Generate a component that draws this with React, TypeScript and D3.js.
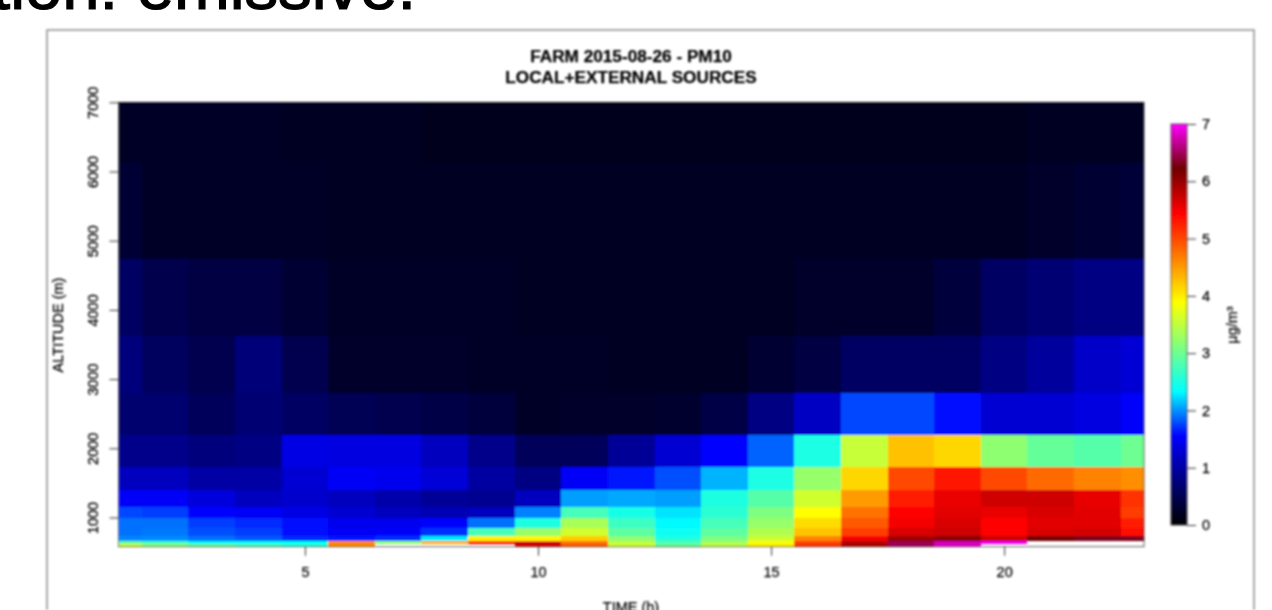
import { useEffect, useRef } from 'react';
import * as d3 from 'd3';

// Hours on the x axis, one column per hour
const hours = d3.range(1, 24);

// Altitude edges of the model layers, top to bottom (m)
const layerEdges = [7000, 6118, 4736, 3623, 2800, 2193, 1730, 1398, 1152, 993, 849, 737, 665, 617, 578];

// PM10 per layer (rows top to bottom) and hour (columns 1..23), 7.5 means off the scale (left white)
const row0 = [.23, .23, .23, .23, .21, .2, .2, .19, .19, .19, .19, .19, .19, .19, .19, .19, .19, .19, .19, .19, .2, .21, .21];
const row1 = [.33, .23, .23, .23, .23, .21, .21, .2, .2, .2, .2, .2, .2, .2, .2, .2, .2, .2, .22, .22, .26, .3, .35];
const row2 = [.6, .47, .4, .4, .3, .23, .23, .23, .23, .21, .21, .21, .21, .21, .21, .26, .26, .26, .37, .6, .7, .8, .8];
const row3 = [.76, .58, .49, .73, .49, .26, .26, .26, .24, .23, .23, .21, .21, .21, .3, .4, .6, .6, .6, .8, .95, 1.22, 1.3];
const row4 = [.67, .67, .55, .7, .6, .52, .49, .43, .37, .24, .27, .27, .28, .43, .8, 1.19, 1.77, 1.77, 1.6, 1.28, 1.28, 1.37, 1.53];
const row5 = [.85, .85, .76, .8, 1.4, 1.37, 1.37, 1.16, .85, .55, .55, .92, 1.28, 1.56, 1.86, 2.5, 3.55, 4.27, 4.13, 3.2, 2.95, 2.85, 3.0];
const row6 = [1.16, 1.16, 1.0, 1.0, 1.28, 1.5, 1.46, 1.31, .98, .8, 1.5, 1.62, 1.8, 2.1, 2.5, 3.25, 4.13, 5.0, 5.29, 5.0, 4.8, 4.65, 4.58];
const row7 = [1.52, 1.52, 1.34, 1.16, 1.25, 1.16, 1.04, .92, .88, 1.16, 2.04, 2.07, 2.04, 2.52, 2.85, 3.6, 4.5, 5.27, 5.55, 5.7, 5.7, 5.57, 5.13];
const row8 = [1.77, 1.74, 1.56, 1.5, 1.4, 1.28, 1.16, 1.1, 1.16, 1.95, 2.75, 2.48, 2.25, 2.6, 3.1, 3.89, 4.75, 5.44, 5.6, 5.55, 5.65, 5.6, 5.07];
const row9 = [1.9, 1.9, 1.74, 1.68, 1.6, 1.46, 1.46, 1.55, 1.9, 2.52, 3.35, 2.7, 2.32, 2.75, 3.25, 4.1, 4.9, 5.5, 5.65, 5.44, 5.6, 5.6, 5.27];
const row10 = [1.9, 1.92, 1.8, 1.74, 1.6, 1.5, 1.52, 1.7, 2.75, 3.25, 3.6, 2.9, 2.4, 2.9, 3.4, 4.25, 5.07, 5.65, 5.7, 5.44, 5.65, 5.68, 5.4];
const row11 = [1.96, 1.98, 1.9, 1.83, 1.68, 1.62, 1.7, 2.27, 3.98, 3.95, 4.2, 3.2, 2.55, 3.1, 3.6, 4.65, 5.5, 5.97, 6.08, 5.72, 6.2, 6.3, 6.3];
const row12 = [2.9, 2.7, 2.3, 2.32, 2.35, 4.6, 3.2, 4.4, 5.44, 5.62, 4.75, 3.5, 2.8, 3.35, 3.85, 5.07, 5.85, 6.45, 6.75, 6.92, 7.5, 7.5, 7.5];
const row13 = [3.6, 3.2, 3.0, 2.8, 2.6, 4.6, 7.5, 7.5, 7.5, 5.7, 4.9, 3.6, 3.0, 3.5, 4.0, 5.1, 5.9, 6.5, 6.85, 7.5, 7.5, 7.5, 7.5];
const rows = [row0, row1, row2, row3, row4, row5, row6, row7, row8, row9, row10, row11, row12, row13];

// Colour ramp of the key
const rampStops = [0, 1.556, 2.333, 3.889, 5.444, 6.222, 7];
const rampColors = ['#000000', '#0000ff', '#00ffff', '#ffff00', '#ff0000', '#6e0000', '#ff00ff'];

const xTicks = [5, 10, 15, 20];
const yTicks = [1000, 2000, 3000, 4000, 5000, 6000, 7000];
const keyTicks = [0, 1, 2, 3, 4, 5, 6, 7];

const AXIS_GREY = '#333';
const TEXT_SIZE = 14.5;
const FONT = '"Liberation Sans", Arial, sans-serif';

const App = () => {
    const ref = useRef<SVGSVGElement>(null);

    useEffect(() => {
        const svg = d3.select(ref.current);
        svg.selectAll('*').remove();

        const x = d3.scaleLinear().domain([1, 23]).range([118.5, 1144]);
        const y = d3.scaleLinear().domain([7000, 578]).range([102.3, 546.7]);
        const keyY = d3.scaleLinear().domain([0, 7]).range([525, 124]);
        const color = d3.scaleLinear<string>().domain(rampStops).range(rampColors).interpolate(d3.interpolateRgb);

        const defs = svg.append('defs');

        // The source is a soft upscaled screenshot, so the figure gets a slight blur
        defs.append('filter')
            .attr('id', 'soft')
            .attr('filterUnits', 'userSpaceOnUse')
            .attr('x', 0).attr('y', 0).attr('width', 1272).attr('height', 610)
            .append('feGaussianBlur').attr('stdDeviation', 0.8);

        defs.append('linearGradient')
            .attr('id', 'ramp')
            .attr('x1', 0).attr('y1', 1).attr('x2', 0).attr('y2', 0)
            .selectAll('stop')
            .data(rampStops)
            .join('stop')
            .attr('offset', (d) => d / 7)
            .attr('stop-color', (d) => color(d));

        // Caption cut off by the top of the picture
        svg.append('text')
            .attr('x', 416).attr('y', 8.5)
            .attr('text-anchor', 'end')
            .attr('font-family', FONT).attr('font-size', 67)
            .attr('fill', '#000').attr('stroke', '#000').attr('stroke-width', 1.2)
            .text('tion: emissive.');

        const g = svg.append('g').attr('filter', 'url(#soft)');

        // Frame of the pasted figure
        g.append('path')
            .attr('d', 'M47,610V30H1254V610')
            .attr('fill', 'none').attr('stroke', '#8c8c8c').attr('stroke-width', 1.5);

        // Heatmap cells, the first and last columns are half wide
        rows.forEach((values, r) => {
            hours.forEach((hour, c) => {
                const v = values[c];
                if (v > 7) return;
                const x0 = x(Math.max(1, hour - 0.5));
                const x1 = x(Math.min(23, hour + 0.5));
                g.append('rect')
                    .attr('x', x0)
                    .attr('y', y(layerEdges[r]))
                    .attr('width', x1 - x0)
                    .attr('height', y(layerEdges[r + 1]) - y(layerEdges[r]))
                    .attr('shape-rendering', 'crispEdges')
                    .attr('fill', color(v));
            });
        });

        g.append('rect')
            .attr('x', x(1)).attr('y', y(7000))
            .attr('width', x(23) - x(1)).attr('height', y(578) - y(7000))
            .attr('fill', 'none').attr('stroke', AXIS_GREY).attr('stroke-width', 0.8);

        const styleAxis = (sel: any) => {
            sel.select('.domain').remove();
            sel.selectAll('line').attr('stroke', AXIS_GREY).attr('stroke-width', 1);
            sel.selectAll('text').attr('font-family', FONT).attr('font-size', TEXT_SIZE)
                .attr('fill', '#000').attr('stroke', '#000').attr('stroke-width', 0.25);
        };

        const xAxis = g.append('g')
            .attr('transform', `translate(0,${y(578)})`)
            .call(d3.axisBottom(x).tickValues(xTicks).tickSize(9).tickPadding(11));
        styleAxis(xAxis);

        const yAxis = g.append('g')
            .attr('transform', `translate(${x(1)},0)`)
            .call(d3.axisLeft(y).tickValues(yTicks).tickSize(9).tickFormat(d3.format('d')));
        styleAxis(yAxis);
        yAxis.selectAll('text')
            .attr('text-anchor', 'middle')
            .attr('x', null).attr('dy', null)
            .attr('transform', 'translate(-25.5,0) rotate(-90)')
            .attr('dominant-baseline', 'central');

        // Titles
        const title = g.append('g')
            .attr('font-family', FONT).attr('font-weight', 'bold')
            .attr('font-size', 17.2).attr('text-anchor', 'middle')
            .attr('fill', '#000').attr('stroke', '#000').attr('stroke-width', 0.25);
        title.append('text').attr('x', 631).attr('y', 62).text('FARM 2015-08-26 - PM10');
        title.append('text').attr('x', 631).attr('y', 83).text('LOCAL+EXTERNAL SOURCES');

        const label = (tx: number, ty: number, rotate: number, text: string) =>
            g.append('text')
                .attr('transform', `translate(${tx},${ty}) rotate(${rotate})`)
                .attr('font-family', FONT).attr('font-size', TEXT_SIZE)
                .attr('text-anchor', 'middle')
                .attr('fill', '#000').attr('stroke', '#000').attr('stroke-width', 0.25)
                .text(text);
        label(631, 612, 0, 'TIME (h)');
        label(63, 325, -90, 'ALTITUDE (m)');
        label(1237, 325, -90, 'μg/m³');

        // Colour key
        g.append('rect')
            .attr('x', 1171).attr('y', keyY(7)).attr('width', 16).attr('height', keyY(0) - keyY(7))
            .attr('fill', 'url(#ramp)').attr('stroke', AXIS_GREY).attr('stroke-width', 0.8);

        const keyAxis = g.append('g')
            .attr('transform', 'translate(1187,0)')
            .call(d3.axisRight(keyY).tickValues(keyTicks).tickSize(9).tickPadding(6).tickFormat(d3.format('d')));
        styleAxis(keyAxis);
    }, []);

    return (
        <svg ref={ref} width={1272} height={610} style={{ position: 'absolute', left: 0, top: 0, background: '#fff' }} />
    );
};

export default App;
